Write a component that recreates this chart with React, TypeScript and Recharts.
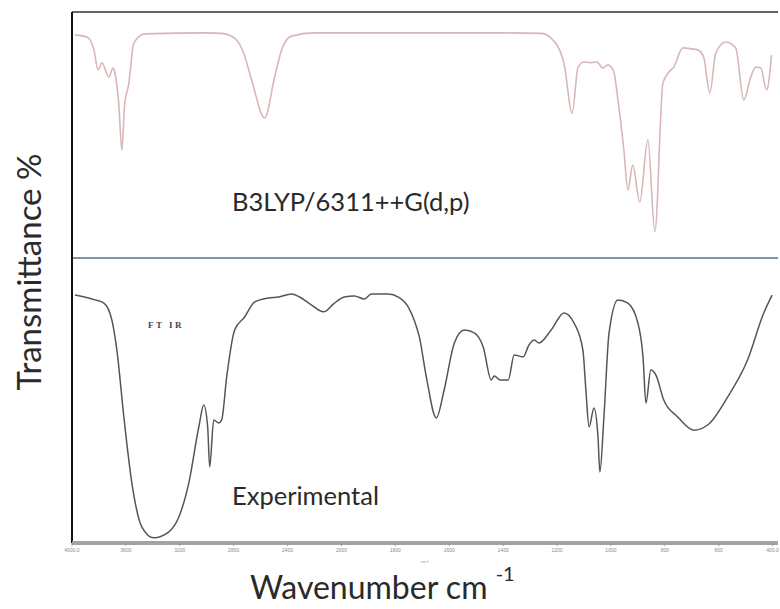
import React from 'react';
import { LineChart, Line, XAxis, YAxis, ReferenceLine, Label } from 'recharts';

// x axis of the instrument: 400 cm-1 per division above 2000, 200 cm-1 below
const tickWavenumbers = [4000, 3600, 3200, 2800, 2400, 2000, 1800, 1600, 1400, 1200, 1000, 800, 600, 400];
const tickLabels = ['4000.0', '3600', '3200', '2800', '2400', '2000', '1800', '1600', '1400', '1200', '1000', '800', '600', '400.0'];

// B3LYP/6311++G(d,p) simulated spectrum
const calcWavenumbers = [
  3978, 3889, 3837, 3807, 3778, 3726, 3696, 3681, 3652, 3630, 3610, 3578, 3541, 3459, 3000, 2889,
  2793, 2726, 2667, 2570, 2496, 2444, 2370, 2200, 1800, 1400, 1259, 1222, 1174, 1144, 1122, 1100,
  1074, 1052, 1030, 1011, 990, 974, 952, 937, 919, 893, 863, 837, 807, 785, 767, 733,
  700, 678, 656, 633, 611, 574, 537, 507, 481, 463, 444, 422, 404,
];
const calcTransmittance = [
  90.7, 89.8, 84.6, 76.4, 79.3, 73.6, 77.2, 75.2, 62, 43.9, 62, 71.1, 87.4, 91.1, 91.5, 91.3,
  89.4, 83.3, 72.4, 56.9, 73.6, 84.6, 90.2, 91.5, 91.5, 91.5, 91.3, 89.4, 79, 58.9, 77.6, 79.7,
  79.4, 79.7, 77.2, 78.5, 76, 64.2, 43.9, 27.6, 37.8, 22.8, 48.0, 10.6, 71.1, 75.6, 77.6, 85.4,
  85, 84.6, 81.7, 67.1, 83.3, 87.8, 85.4, 64.2, 73.6, 77.6, 77.2, 68.3, 82.5,
];

// FTIR experimental spectrum
const expWavenumbers = [
  3978, 3830, 3763, 3704, 3667, 3615, 3556, 3481, 3393, 3281, 3207, 3133, 3059, 3022, 2993, 2978,
  2948, 2911, 2889, 2852, 2793, 2719, 2644, 2541, 2467, 2370, 2311, 2222, 2133, 2052, 1989, 1952,
  1915, 1889, 1826, 1789, 1752, 1730, 1711, 1685, 1648, 1619, 1581, 1544, 1507, 1474, 1444, 1433,
  1411, 1381, 1359, 1326, 1304, 1285, 1267, 1222, 1174, 1137, 1104, 1093, 1081, 1063, 1048, 1041,
  1026, 1007, 974, 937, 900, 881, 870, 852, 833, 804, 752, 693, 641, 567, 493, 433, 402,
];
const expTransmittance = [
  87.0, 85.3, 84.2, 78.2, 67.7, 44.2, 21.1, 5.6, 1.8, 3.9, 9.1, 21.1, 40.7, 48.4, 40.7, 26.7,
  43.2, 42.1, 43.2, 58.2, 74.7, 79.3, 84.6, 86.0, 86.3, 87.4, 86.3, 83.5, 81.1, 84.2, 86.3, 86.7,
  85.6, 87.4, 87.4, 86.3, 82.8, 78.2, 72.3, 58.2, 43.9, 53.7, 70.2, 74.7, 73.7, 68.8, 57.2, 58.6,
  57.2, 57.2, 66.0, 65.3, 69.5, 71.2, 70.2, 74.7, 80.7, 77.2, 67.7, 53.7, 40.7, 47.4, 37.2, 24.9,
  44.2, 73.7, 85.3, 84.2, 77.2, 65.3, 49.1, 60.7, 58.9, 50.2, 44.2, 39.6, 41.4, 51.2, 64.2, 80.7, 87.0,
];

const toPos = (wn: number) => (wn >= 2000 ? (4000 - wn) / 400 : 5 + (2000 - wn) / 200);

const calcData = calcWavenumbers.map((wn, i) => ({ pos: toPos(wn), t: calcTransmittance[i] }));
const expData = expWavenumbers.map((wn, i) => ({ pos: toPos(wn), t: expTransmittance[i] }));
const tickPositions = tickWavenumbers.map(toPos);

const formatTick = (v: number) => {
  const i = tickPositions.findIndex((p) => Math.abs(p - v) < 1e-6);
  return i >= 0 ? tickLabels[i] : '';
};

const X_DOMAIN: [number, number] = [0, 13.1];
const LABEL_FONT = 'Lato, "Open Sans", sans-serif';

export default function App() {
  return (
    <div style={{ position: 'absolute', left: 0, top: 0, width: 780, height: 609, background: '#fff', overflow: 'hidden' }}>
      {/* upper panel: calculated */}
      <div style={{ position: 'absolute', left: 0, top: 0 }}>
        <LineChart width={780} height={260} data={calcData} margin={{ top: 12, right: 2, bottom: 2, left: 72 }}>
          <XAxis type="number" dataKey="pos" domain={X_DOMAIN} allowDataOverflow hide />
          <YAxis type="number" domain={[0, 100]} hide />
          <ReferenceLine y={100} stroke="#333" strokeWidth={1.5} />
          <ReferenceLine y={0} stroke="#4f6f96" strokeWidth={1.5} />
          <ReferenceLine x={0} stroke="#111" strokeWidth={2} />
          <Line type="monotone" dataKey="t" stroke="#d9b7b7" strokeWidth={1.6} dot={false} isAnimationActive={false} />
        </LineChart>
      </div>

      {/* lower panel: experimental */}
      <div style={{ position: 'absolute', left: 0, top: 258 }}>
        <LineChart width={780} height={305} data={expData} margin={{ top: 0, right: 2, bottom: 0, left: 72 }}>
          <XAxis
            type="number"
            dataKey="pos"
            domain={X_DOMAIN}
            allowDataOverflow
            ticks={tickPositions}
            interval={0}
            tickFormatter={formatTick}
            tick={{ fontSize: 5, fill: '#8a8a8a', fontFamily: 'sans-serif' }}
            tickLine={{ stroke: '#999' }}
            tickSize={3}
            height={20}
            axisLine={{ stroke: '#a3a3a3', strokeWidth: 4 }}
          >
            <Label value="cm-1" position="insideBottom" offset={0} style={{ fontSize: 4, fill: '#999' }} />
          </XAxis>
          <YAxis type="number" domain={[0, 100]} hide />
          <ReferenceLine x={0} stroke="#111" strokeWidth={2} />
          <Line type="monotone" dataKey="t" stroke="#555" strokeWidth={1.5} dot={false} isAnimationActive={false} />
        </LineChart>
      </div>

      {/* annotations */}
      <div style={{ position: 'absolute', left: 232, top: 186, fontFamily: LABEL_FONT, fontSize: 25.5, color: '#2a2a2a', whiteSpace: 'nowrap' }}>
        B3LYP/6311++G(d,p)
      </div>
      <div style={{ position: 'absolute', left: 232, top: 480, fontFamily: LABEL_FONT, fontSize: 25.5, color: '#2a2a2a', whiteSpace: 'nowrap' }}>
        Experimental
      </div>
      <div style={{ position: 'absolute', left: 148, top: 320, fontFamily: '"Liberation Serif", serif', fontWeight: 'bold', fontSize: 9, letterSpacing: 2.5, color: '#444', whiteSpace: 'nowrap' }}>
        FT IR
      </div>

      {/* axis titles */}
      <div
        style={{
          position: 'absolute',
          left: 28,
          top: 272,
          transform: 'translate(-50%, -50%) rotate(-90deg)',
          fontFamily: LABEL_FONT,
          fontSize: 33,
          color: '#2a2a2a',
          whiteSpace: 'nowrap',
        }}
      >
        Transmittance %
      </div>
      <div style={{ position: 'absolute', left: 250, top: 567, fontFamily: LABEL_FONT, fontSize: 32, color: '#2a2a2a', whiteSpace: 'nowrap' }}>
        Wavenumber cm <sup style={{ fontSize: 20, verticalAlign: 'top', position: 'relative', top: -6 }}>-1</sup>
      </div>
    </div>
  );
}
